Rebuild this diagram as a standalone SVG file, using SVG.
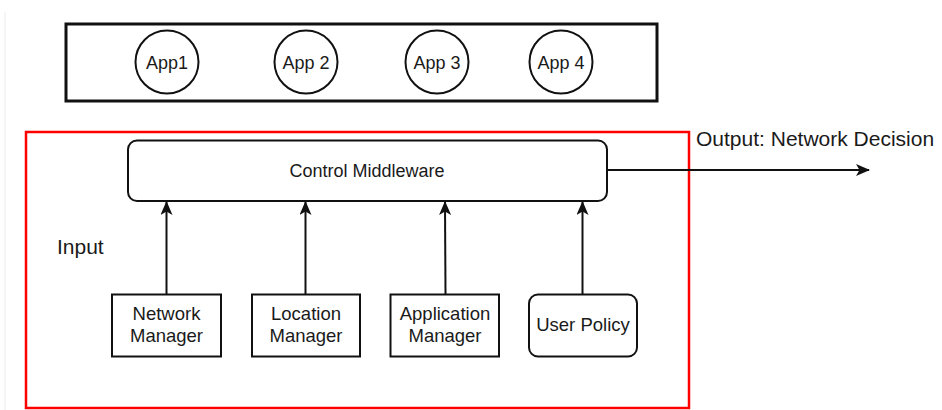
<svg xmlns="http://www.w3.org/2000/svg" width="942" height="410" viewBox="0 0 942 410">
<defs>
<style>
text{font-family:"Liberation Sans",Arial,Helvetica,sans-serif;fill:#1a1a1a;}
.lbl{font-size:18px;text-anchor:middle;}
.box{font-size:18.5px;}
.node{fill:#fff;stroke:#111;stroke-width:2;}
.conn{stroke:#111;stroke-width:2;fill:none;}
</style>
<marker id="arr" viewBox="0 0 14 12" refX="13" refY="6" markerWidth="14" markerHeight="12" markerUnits="userSpaceOnUse" orient="auto">
<path d="M0,0 L14,6 L0,12 L3.5,6 Z" fill="#111"/>
</marker>
</defs>
<rect width="942" height="410" fill="#fff"/>
<line x1="5" y1="12" x2="5" y2="410" stroke="#ececec" stroke-width="1"/>

<g id="apps-container">
<rect x="66" y="24" width="591" height="77" fill="#fff" stroke="#111" stroke-width="3"/>
</g>
<g id="app1"><circle class="node" cx="167" cy="62" r="31.5"/><text class="lbl" x="167" y="68.5">App1</text></g>
<g id="app2"><circle class="node" cx="306" cy="62" r="31.5"/><text class="lbl" x="306" y="68.5">App 2</text></g>
<g id="app3"><circle class="node" cx="437" cy="62" r="31.5"/><text class="lbl" x="437" y="68.5">App 3</text></g>
<g id="app4"><circle class="node" cx="561" cy="62" r="31.5"/><text class="lbl" x="561" y="68.5">App 4</text></g>

<g id="system-boundary">
<rect x="26" y="132" width="663" height="276" fill="none" stroke="#ff0000" stroke-width="2.5"/>
</g>

<g id="control-middleware">
<rect class="node" x="128" y="140.5" width="479" height="60.5" rx="9"/>
<text class="lbl" x="367" y="177">Control Middleware</text>
</g>

<g id="input-label"><text x="57" y="254" font-size="21">Input</text></g>

<g id="network-manager">
<rect class="node" x="112" y="294.5" width="109" height="62"/>
<text class="lbl box" x="166.5" y="320">Network</text>
<text class="lbl box" x="166.5" y="342">Manager</text>
</g>
<g id="location-manager">
<rect class="node" x="252" y="294.5" width="108" height="62"/>
<text class="lbl box" x="306" y="320">Location</text>
<text class="lbl box" x="306" y="342">Manager</text>
</g>
<g id="application-manager">
<rect class="node" x="390.5" y="294.5" width="108.5" height="62"/>
<text class="lbl box" x="445" y="320">Application</text>
<text class="lbl box" x="445" y="342">Manager</text>
</g>
<g id="user-policy">
<rect class="node" x="529" y="294.5" width="108" height="62" rx="9"/>
<text class="lbl box" x="583" y="331">User Policy</text>
</g>

<g id="output-label"><text x="696" y="146" font-size="21">Output: Network Decision</text></g>

<g id="connectors">
<line class="conn" x1="166.5" y1="294" x2="166.5" y2="202" marker-end="url(#arr)"/>
<line class="conn" x1="305.5" y1="294" x2="305.5" y2="202" marker-end="url(#arr)"/>
<line class="conn" x1="445.5" y1="294" x2="445" y2="202" marker-end="url(#arr)"/>
<line class="conn" x1="582.5" y1="294" x2="582.5" y2="202" marker-end="url(#arr)"/>
<line class="conn" x1="607" y1="170" x2="869" y2="170" marker-end="url(#arr)"/>
</g>
</svg>
